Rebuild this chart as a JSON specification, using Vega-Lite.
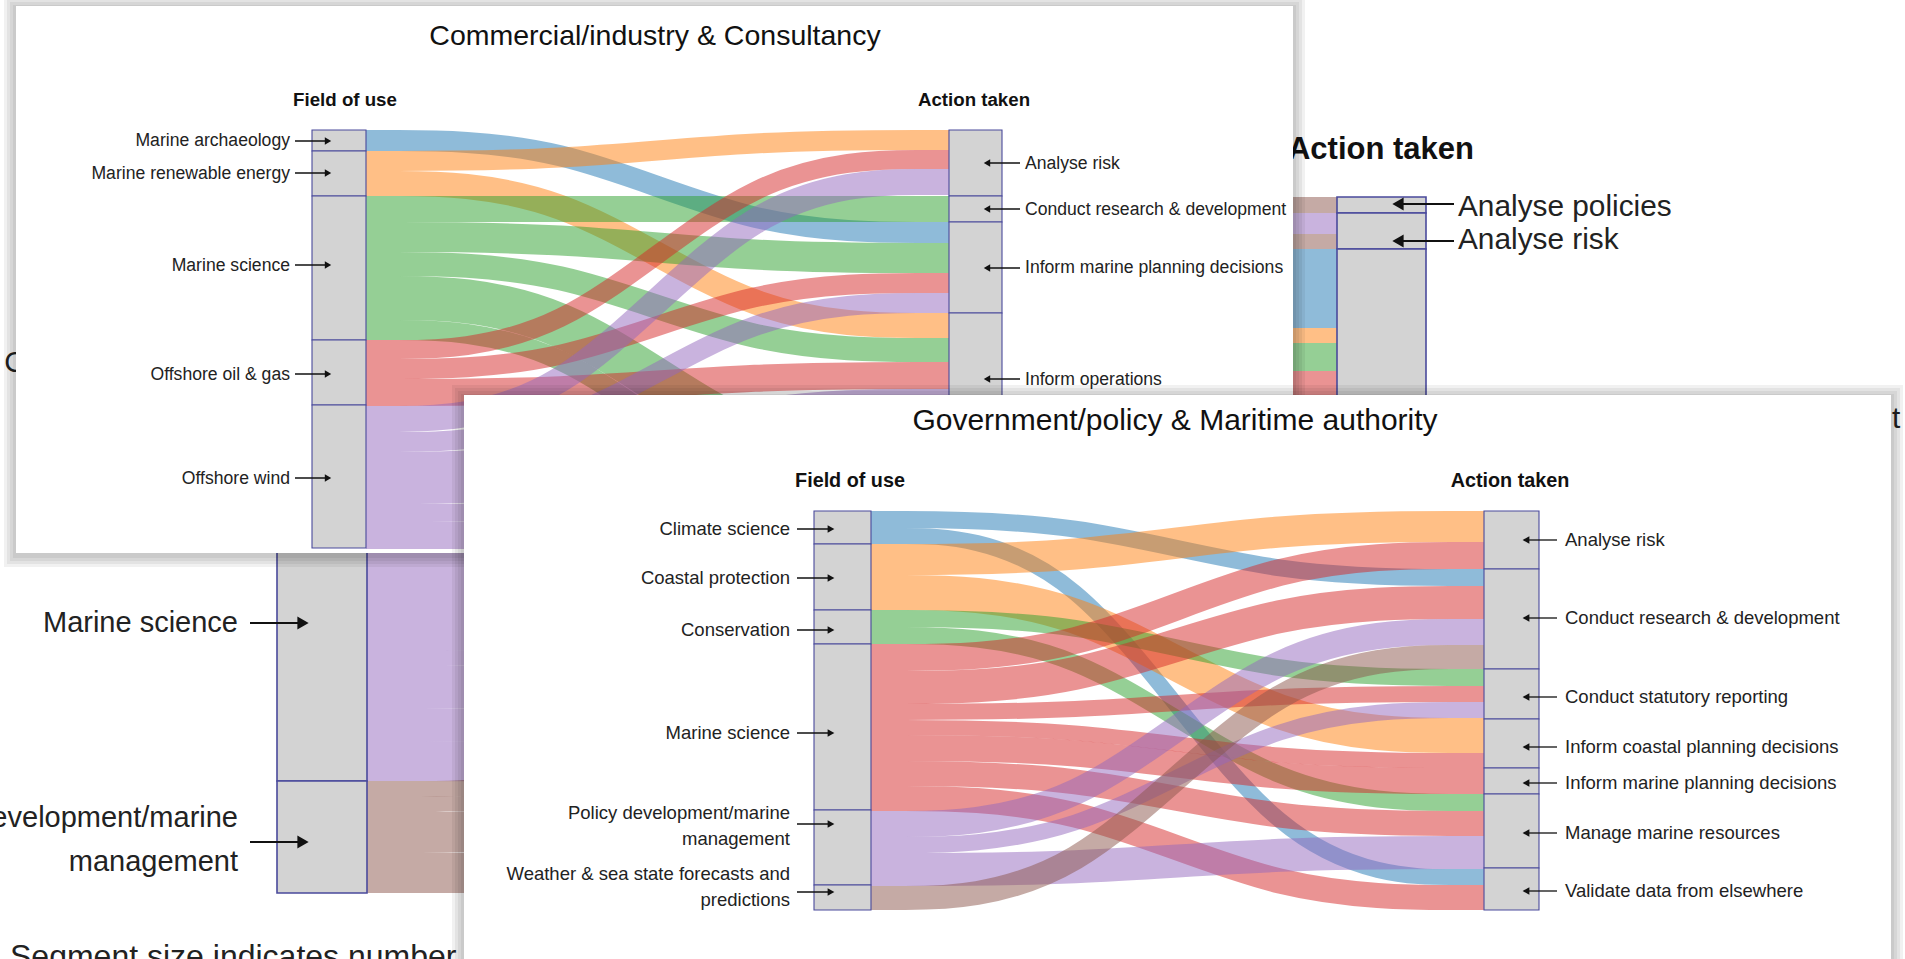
{
"$schema": "https://vega.github.io/schema/vega-lite/v6.json",
"width": 1905, "height": 959,
"autosize": {"type": "none"},
"padding": 0,
"background": "#ffffff",
"config": {"view": {"stroke": null}, "text": {"font": "Liberation Sans, Arial, sans-serif", "color": "#222222"}},
"datasets": {
"links": [
{"p":"BG","id":"g1","si":0,"v":79,"k":0,"x":367,"y":236.5},{"p":"BG","id":"g1","si":0,"v":79,"k":1,"x":690,"y":236.5},{"p":"BG","id":"g1","si":0,"v":79,"k":2,"x":1014,"y":288.5},{"p":"BG","id":"g1","si":0,"v":79,"k":3,"x":1337,"y":288.5},
{"p":"BG","id":"g2","si":0,"v":30,"k":0,"x":367,"y":291},{"p":"BG","id":"g2","si":0,"v":30,"k":1,"x":690,"y":291},{"p":"BG","id":"g2","si":0,"v":30,"k":2,"x":1014,"y":623},{"p":"BG","id":"g2","si":0,"v":30,"k":3,"x":1337,"y":623},
{"p":"BG","id":"g3","si":0,"v":20,"k":0,"x":367,"y":316},{"p":"BG","id":"g3","si":0,"v":20,"k":1,"x":690,"y":316},{"p":"BG","id":"g3","si":0,"v":20,"k":2,"x":1014,"y":827},{"p":"BG","id":"g3","si":0,"v":20,"k":3,"x":1337,"y":827},
{"p":"BG","id":"g4","si":1,"v":15,"k":0,"x":367,"y":333.5},{"p":"BG","id":"g4","si":1,"v":15,"k":1,"x":690,"y":333.5},{"p":"BG","id":"g4","si":1,"v":15,"k":2,"x":1014,"y":335.5},{"p":"BG","id":"g4","si":1,"v":15,"k":3,"x":1337,"y":335.5},
{"p":"BG","id":"g5","si":1,"v":30,"k":0,"x":367,"y":356},{"p":"BG","id":"g5","si":1,"v":30,"k":1,"x":690,"y":356},{"p":"BG","id":"g5","si":1,"v":30,"k":2,"x":1014,"y":653},{"p":"BG","id":"g5","si":1,"v":30,"k":3,"x":1337,"y":653},
{"p":"BG","id":"g6","si":1,"v":30,"k":0,"x":367,"y":386},{"p":"BG","id":"g6","si":1,"v":30,"k":1,"x":690,"y":386},{"p":"BG","id":"g6","si":1,"v":30,"k":2,"x":1014,"y":725},{"p":"BG","id":"g6","si":1,"v":30,"k":3,"x":1337,"y":725},
{"p":"BG","id":"g7","si":2,"v":28,"k":0,"x":367,"y":415},{"p":"BG","id":"g7","si":2,"v":28,"k":1,"x":690,"y":415},{"p":"BG","id":"g7","si":2,"v":28,"k":2,"x":1014,"y":357},{"p":"BG","id":"g7","si":2,"v":28,"k":3,"x":1337,"y":357},
{"p":"BG","id":"g8","si":2,"v":20,"k":0,"x":367,"y":439},{"p":"BG","id":"g8","si":2,"v":20,"k":1,"x":690,"y":439},{"p":"BG","id":"g8","si":2,"v":20,"k":2,"x":1014,"y":750},{"p":"BG","id":"g8","si":2,"v":20,"k":3,"x":1337,"y":750},
{"p":"BG","id":"g9","si":3,"v":50,"k":0,"x":367,"y":474},{"p":"BG","id":"g9","si":3,"v":50,"k":1,"x":690,"y":474},{"p":"BG","id":"g9","si":3,"v":50,"k":2,"x":1014,"y":396},{"p":"BG","id":"g9","si":3,"v":50,"k":3,"x":1337,"y":396},
{"p":"BG","id":"g10","si":4,"v":21,"k":0,"x":367,"y":509.5},{"p":"BG","id":"g10","si":4,"v":21,"k":1,"x":690,"y":509.5},{"p":"BG","id":"g10","si":4,"v":21,"k":2,"x":1014,"y":223.5},{"p":"BG","id":"g10","si":4,"v":21,"k":3,"x":1337,"y":223.5},
{"p":"BG","id":"g11","si":4,"v":131,"k":0,"x":367,"y":585.5},{"p":"BG","id":"g11","si":4,"v":131,"k":1,"x":690,"y":585.5},{"p":"BG","id":"g11","si":4,"v":131,"k":2,"x":1014,"y":486.5},{"p":"BG","id":"g11","si":4,"v":131,"k":3,"x":1337,"y":486.5},
{"p":"BG","id":"g12","si":4,"v":15,"k":0,"x":367,"y":658.5},{"p":"BG","id":"g12","si":4,"v":15,"k":1,"x":690,"y":658.5},{"p":"BG","id":"g12","si":4,"v":15,"k":2,"x":1014,"y":600.5},{"p":"BG","id":"g12","si":4,"v":15,"k":3,"x":1337,"y":600.5},
{"p":"BG","id":"g13","si":4,"v":42,"k":0,"x":367,"y":687},{"p":"BG","id":"g13","si":4,"v":42,"k":1,"x":690,"y":687},{"p":"BG","id":"g13","si":4,"v":42,"k":2,"x":1014,"y":689},{"p":"BG","id":"g13","si":4,"v":42,"k":3,"x":1337,"y":689},
{"p":"BG","id":"g14","si":4,"v":33,"k":0,"x":367,"y":724.5},{"p":"BG","id":"g14","si":4,"v":33,"k":1,"x":690,"y":724.5},{"p":"BG","id":"g14","si":4,"v":33,"k":2,"x":1014,"y":776.5},{"p":"BG","id":"g14","si":4,"v":33,"k":3,"x":1337,"y":776.5},
{"p":"BG","id":"g15","si":4,"v":40,"k":0,"x":367,"y":761},{"p":"BG","id":"g15","si":4,"v":40,"k":1,"x":690,"y":761},{"p":"BG","id":"g15","si":4,"v":40,"k":2,"x":1014,"y":857},{"p":"BG","id":"g15","si":4,"v":40,"k":3,"x":1337,"y":857},
{"p":"BG","id":"g16","si":5,"v":16,"k":0,"x":367,"y":789},{"p":"BG","id":"g16","si":5,"v":16,"k":1,"x":690,"y":789},{"p":"BG","id":"g16","si":5,"v":16,"k":2,"x":1014,"y":205},{"p":"BG","id":"g16","si":5,"v":16,"k":3,"x":1337,"y":205},
{"p":"BG","id":"g17","si":5,"v":15,"k":0,"x":367,"y":804.5},{"p":"BG","id":"g17","si":5,"v":15,"k":1,"x":690,"y":804.5},{"p":"BG","id":"g17","si":5,"v":15,"k":2,"x":1014,"y":241.5},{"p":"BG","id":"g17","si":5,"v":15,"k":3,"x":1337,"y":241.5},
{"p":"BG","id":"g18","si":5,"v":41,"k":0,"x":367,"y":832.5},{"p":"BG","id":"g18","si":5,"v":41,"k":1,"x":690,"y":832.5},{"p":"BG","id":"g18","si":5,"v":41,"k":2,"x":1014,"y":572.5},{"p":"BG","id":"g18","si":5,"v":41,"k":3,"x":1337,"y":572.5},
{"p":"BG","id":"g19","si":5,"v":24,"k":0,"x":367,"y":865},{"p":"BG","id":"g19","si":5,"v":24,"k":1,"x":690,"y":865},{"p":"BG","id":"g19","si":5,"v":24,"k":2,"x":1014,"y":805},{"p":"BG","id":"g19","si":5,"v":24,"k":3,"x":1337,"y":805},
{"p":"BG","id":"g20","si":5,"v":16,"k":0,"x":367,"y":885},{"p":"BG","id":"g20","si":5,"v":16,"k":1,"x":690,"y":885},{"p":"BG","id":"g20","si":5,"v":16,"k":2,"x":1014,"y":885},{"p":"BG","id":"g20","si":5,"v":16,"k":3,"x":1337,"y":885},

{"p":"TL","id":"t1","si":0,"v":21,"k":0,"x":366,"y":140.5},{"p":"TL","id":"t1","si":0,"v":21,"k":1,"x":560,"y":140.5},{"p":"TL","id":"t1","si":0,"v":21,"k":2,"x":755,"y":232.5},{"p":"TL","id":"t1","si":0,"v":21,"k":3,"x":949,"y":232.5},
{"p":"TL","id":"t2","si":1,"v":20,"k":0,"x":366,"y":161},{"p":"TL","id":"t2","si":1,"v":20,"k":1,"x":560,"y":161},{"p":"TL","id":"t2","si":1,"v":20,"k":2,"x":755,"y":140},{"p":"TL","id":"t2","si":1,"v":20,"k":3,"x":949,"y":140},
{"p":"TL","id":"t3","si":1,"v":25,"k":0,"x":366,"y":183.5},{"p":"TL","id":"t3","si":1,"v":25,"k":1,"x":560,"y":183.5},{"p":"TL","id":"t3","si":1,"v":25,"k":2,"x":755,"y":325.5},{"p":"TL","id":"t3","si":1,"v":25,"k":3,"x":949,"y":325.5},
{"p":"TL","id":"t4","si":2,"v":26,"k":0,"x":366,"y":209},{"p":"TL","id":"t4","si":2,"v":26,"k":1,"x":560,"y":209},{"p":"TL","id":"t4","si":2,"v":26,"k":2,"x":755,"y":209},{"p":"TL","id":"t4","si":2,"v":26,"k":3,"x":949,"y":209},
{"p":"TL","id":"t5","si":2,"v":30,"k":0,"x":366,"y":237},{"p":"TL","id":"t5","si":2,"v":30,"k":1,"x":560,"y":237},{"p":"TL","id":"t5","si":2,"v":30,"k":2,"x":755,"y":258},{"p":"TL","id":"t5","si":2,"v":30,"k":3,"x":949,"y":258},
{"p":"TL","id":"t6","si":2,"v":24,"k":0,"x":366,"y":264},{"p":"TL","id":"t6","si":2,"v":24,"k":1,"x":560,"y":264},{"p":"TL","id":"t6","si":2,"v":24,"k":2,"x":755,"y":350},{"p":"TL","id":"t6","si":2,"v":24,"k":3,"x":949,"y":350},
{"p":"TL","id":"t7","si":2,"v":44,"k":0,"x":366,"y":298},{"p":"TL","id":"t7","si":2,"v":44,"k":1,"x":560,"y":298},{"p":"TL","id":"t7","si":2,"v":44,"k":2,"x":755,"y":463},{"p":"TL","id":"t7","si":2,"v":44,"k":3,"x":949,"y":463},
{"p":"TL","id":"t8","si":2,"v":20,"k":0,"x":366,"y":330},{"p":"TL","id":"t8","si":2,"v":20,"k":1,"x":560,"y":330},{"p":"TL","id":"t8","si":2,"v":20,"k":2,"x":755,"y":513},{"p":"TL","id":"t8","si":2,"v":20,"k":3,"x":949,"y":513},
{"p":"TL","id":"t9","si":3,"v":19,"k":0,"x":366,"y":349.5},{"p":"TL","id":"t9","si":3,"v":19,"k":1,"x":560,"y":349.5},{"p":"TL","id":"t9","si":3,"v":19,"k":2,"x":755,"y":159.5},{"p":"TL","id":"t9","si":3,"v":19,"k":3,"x":949,"y":159.5},
{"p":"TL","id":"t10","si":3,"v":20,"k":0,"x":366,"y":369},{"p":"TL","id":"t10","si":3,"v":20,"k":1,"x":560,"y":369},{"p":"TL","id":"t10","si":3,"v":20,"k":2,"x":755,"y":283},{"p":"TL","id":"t10","si":3,"v":20,"k":3,"x":949,"y":283},
{"p":"TL","id":"t11","si":3,"v":27,"k":0,"x":366,"y":392.5},{"p":"TL","id":"t11","si":3,"v":27,"k":1,"x":560,"y":392.5},{"p":"TL","id":"t11","si":3,"v":27,"k":2,"x":755,"y":375.5},{"p":"TL","id":"t11","si":3,"v":27,"k":3,"x":949,"y":375.5},
{"p":"TL","id":"t12","si":4,"v":26,"k":0,"x":366,"y":419},{"p":"TL","id":"t12","si":4,"v":26,"k":1,"x":560,"y":419},{"p":"TL","id":"t12","si":4,"v":26,"k":2,"x":755,"y":182},{"p":"TL","id":"t12","si":4,"v":26,"k":3,"x":949,"y":182},
{"p":"TL","id":"t13","si":4,"v":20,"k":0,"x":366,"y":442},{"p":"TL","id":"t13","si":4,"v":20,"k":1,"x":560,"y":442},{"p":"TL","id":"t13","si":4,"v":20,"k":2,"x":755,"y":303},{"p":"TL","id":"t13","si":4,"v":20,"k":3,"x":949,"y":303},
{"p":"TL","id":"t14","si":4,"v":52,"k":0,"x":366,"y":478},{"p":"TL","id":"t14","si":4,"v":52,"k":1,"x":560,"y":478},{"p":"TL","id":"t14","si":4,"v":52,"k":2,"x":755,"y":415},{"p":"TL","id":"t14","si":4,"v":52,"k":3,"x":949,"y":415},
{"p":"TL","id":"t15","si":4,"v":18,"k":0,"x":366,"y":513},{"p":"TL","id":"t15","si":4,"v":18,"k":1,"x":560,"y":513},{"p":"TL","id":"t15","si":4,"v":18,"k":2,"x":755,"y":494},{"p":"TL","id":"t15","si":4,"v":18,"k":3,"x":949,"y":494},
{"p":"TL","id":"t16","si":4,"v":27,"k":0,"x":366,"y":535.5},{"p":"TL","id":"t16","si":4,"v":27,"k":1,"x":560,"y":535.5},{"p":"TL","id":"t16","si":4,"v":27,"k":2,"x":755,"y":536.5},{"p":"TL","id":"t16","si":4,"v":27,"k":3,"x":949,"y":536.5},

{"p":"BR","id":"b1","si":0,"v":17,"k":0,"x":871,"y":519.5},{"p":"BR","id":"b1","si":0,"v":17,"k":1,"x":1075,"y":519.5},{"p":"BR","id":"b1","si":0,"v":17,"k":2,"x":1280,"y":577.5},{"p":"BR","id":"b1","si":0,"v":17,"k":3,"x":1484,"y":577.5},
{"p":"BR","id":"b2","si":0,"v":16,"k":0,"x":871,"y":536},{"p":"BR","id":"b2","si":0,"v":16,"k":1,"x":1075,"y":536},{"p":"BR","id":"b2","si":0,"v":16,"k":2,"x":1280,"y":877},{"p":"BR","id":"b2","si":0,"v":16,"k":3,"x":1484,"y":877},
{"p":"BR","id":"b3","si":1,"v":31,"k":0,"x":871,"y":559.5},{"p":"BR","id":"b3","si":1,"v":31,"k":1,"x":1075,"y":559.5},{"p":"BR","id":"b3","si":1,"v":31,"k":2,"x":1280,"y":526.5},{"p":"BR","id":"b3","si":1,"v":31,"k":3,"x":1484,"y":526.5},
{"p":"BR","id":"b4","si":1,"v":35,"k":0,"x":871,"y":592.5},{"p":"BR","id":"b4","si":1,"v":35,"k":1,"x":1075,"y":592.5},{"p":"BR","id":"b4","si":1,"v":35,"k":2,"x":1280,"y":735.5},{"p":"BR","id":"b4","si":1,"v":35,"k":3,"x":1484,"y":735.5},
{"p":"BR","id":"b5","si":2,"v":17,"k":0,"x":871,"y":618.5},{"p":"BR","id":"b5","si":2,"v":17,"k":1,"x":1075,"y":618.5},{"p":"BR","id":"b5","si":2,"v":17,"k":2,"x":1280,"y":677.5},{"p":"BR","id":"b5","si":2,"v":17,"k":3,"x":1484,"y":677.5},
{"p":"BR","id":"b6","si":2,"v":17,"k":0,"x":871,"y":635.5},{"p":"BR","id":"b6","si":2,"v":17,"k":1,"x":1075,"y":635.5},{"p":"BR","id":"b6","si":2,"v":17,"k":2,"x":1280,"y":802.5},{"p":"BR","id":"b6","si":2,"v":17,"k":3,"x":1484,"y":802.5},
{"p":"BR","id":"b7","si":3,"v":27,"k":0,"x":871,"y":657.5},{"p":"BR","id":"b7","si":3,"v":27,"k":1,"x":1075,"y":657.5},{"p":"BR","id":"b7","si":3,"v":27,"k":2,"x":1280,"y":555.5},{"p":"BR","id":"b7","si":3,"v":27,"k":3,"x":1484,"y":555.5},
{"p":"BR","id":"b8","si":3,"v":33,"k":0,"x":871,"y":687.5},{"p":"BR","id":"b8","si":3,"v":33,"k":1,"x":1075,"y":687.5},{"p":"BR","id":"b8","si":3,"v":33,"k":2,"x":1280,"y":602.5},{"p":"BR","id":"b8","si":3,"v":33,"k":3,"x":1484,"y":602.5},
{"p":"BR","id":"b9","si":3,"v":16,"k":0,"x":871,"y":712},{"p":"BR","id":"b9","si":3,"v":16,"k":1,"x":1075,"y":712},{"p":"BR","id":"b9","si":3,"v":16,"k":2,"x":1280,"y":694},{"p":"BR","id":"b9","si":3,"v":16,"k":3,"x":1484,"y":694},
{"p":"BR","id":"b10","si":3,"v":15,"k":0,"x":871,"y":727.5},{"p":"BR","id":"b10","si":3,"v":15,"k":1,"x":1075,"y":727.5},{"p":"BR","id":"b10","si":3,"v":15,"k":2,"x":1280,"y":760.5},{"p":"BR","id":"b10","si":3,"v":15,"k":3,"x":1484,"y":760.5},
{"p":"BR","id":"b11","si":3,"v":26,"k":0,"x":871,"y":748},{"p":"BR","id":"b11","si":3,"v":26,"k":1,"x":1075,"y":748},{"p":"BR","id":"b11","si":3,"v":26,"k":2,"x":1280,"y":781},{"p":"BR","id":"b11","si":3,"v":26,"k":3,"x":1484,"y":781},
{"p":"BR","id":"b12","si":3,"v":25,"k":0,"x":871,"y":773.5},{"p":"BR","id":"b12","si":3,"v":25,"k":1,"x":1075,"y":773.5},{"p":"BR","id":"b12","si":3,"v":25,"k":2,"x":1280,"y":823.5},{"p":"BR","id":"b12","si":3,"v":25,"k":3,"x":1484,"y":823.5},
{"p":"BR","id":"b13","si":3,"v":25,"k":0,"x":871,"y":798.5},{"p":"BR","id":"b13","si":3,"v":25,"k":1,"x":1075,"y":798.5},{"p":"BR","id":"b13","si":3,"v":25,"k":2,"x":1280,"y":897.5},{"p":"BR","id":"b13","si":3,"v":25,"k":3,"x":1484,"y":897.5},
{"p":"BR","id":"b14","si":4,"v":26,"k":0,"x":871,"y":824},{"p":"BR","id":"b14","si":4,"v":26,"k":1,"x":1075,"y":824},{"p":"BR","id":"b14","si":4,"v":26,"k":2,"x":1280,"y":632},{"p":"BR","id":"b14","si":4,"v":26,"k":3,"x":1484,"y":632},
{"p":"BR","id":"b15","si":4,"v":16,"k":0,"x":871,"y":845},{"p":"BR","id":"b15","si":4,"v":16,"k":1,"x":1075,"y":845},{"p":"BR","id":"b15","si":4,"v":16,"k":2,"x":1280,"y":710},{"p":"BR","id":"b15","si":4,"v":16,"k":3,"x":1484,"y":710},
{"p":"BR","id":"b16","si":4,"v":33,"k":0,"x":871,"y":869.5},{"p":"BR","id":"b16","si":4,"v":33,"k":1,"x":1075,"y":869.5},{"p":"BR","id":"b16","si":4,"v":33,"k":2,"x":1280,"y":852.5},{"p":"BR","id":"b16","si":4,"v":33,"k":3,"x":1484,"y":852.5},
{"p":"BR","id":"b17","si":5,"v":24,"k":0,"x":871,"y":898},{"p":"BR","id":"b17","si":5,"v":24,"k":1,"x":1075,"y":898},{"p":"BR","id":"b17","si":5,"v":24,"k":2,"x":1280,"y":657},{"p":"BR","id":"b17","si":5,"v":24,"k":3,"x":1484,"y":657}
],
"nodes": [
{"p":"BG","n":"Climate science","x":277,"x2":367,"y":197,"y2":326},{"p":"BG","n":"Coastal protection","x":277,"x2":367,"y":326,"y2":401},{"p":"BG","n":"Conservation","x":277,"x2":367,"y":401,"y2":449},{"p":"BG","n":"Other","x":277,"x2":367,"y":449,"y2":499},{"p":"BG","n":"Marine science","x":277,"x2":367,"y":499,"y2":781},{"p":"BG","n":"Policy development/marine management","x":277,"x2":367,"y":781,"y2":893},
{"p":"BG","n":"Analyse policies","x":1337,"x2":1426,"y":197,"y2":213},{"p":"BG","n":"Analyse risk","x":1337,"x2":1426,"y":213,"y2":249},{"p":"BG","n":"Conduct research & development","x":1337,"x2":1426,"y":249,"y2":593},{"p":"BG","n":"Conduct statutory reporting","x":1337,"x2":1426,"y":593,"y2":608},{"p":"BG","n":"Inform marine planning decisions","x":1337,"x2":1426,"y":608,"y2":710},{"p":"BG","n":"Manage marine resources","x":1337,"x2":1426,"y":710,"y2":817},{"p":"BG","n":"Validate data from elsewhere","x":1337,"x2":1426,"y":817,"y2":893},
{"p":"TL","n":"Marine archaeology","x":312,"x2":366,"y":130,"y2":151},{"p":"TL","n":"Marine renewable energy","x":312,"x2":366,"y":151,"y2":196},{"p":"TL","n":"Marine science","x":312,"x2":366,"y":196,"y2":340},{"p":"TL","n":"Offshore oil & gas","x":312,"x2":366,"y":340,"y2":405},{"p":"TL","n":"Offshore wind","x":312,"x2":366,"y":405,"y2":548},
{"p":"TL","n":"Analyse risk","x":949,"x2":1002,"y":130,"y2":196},{"p":"TL","n":"Conduct research & development","x":949,"x2":1002,"y":196,"y2":222},{"p":"TL","n":"Inform marine planning decisions","x":949,"x2":1002,"y":222,"y2":313},{"p":"TL","n":"Inform operations","x":949,"x2":1002,"y":313,"y2":441},{"p":"TL","n":"Manage marine resources","x":949,"x2":1002,"y":441,"y2":503},{"p":"TL","n":"Validate data from elsewhere","x":949,"x2":1002,"y":503,"y2":548},
{"p":"BR","n":"Climate science","x":814,"x2":871,"y":511,"y2":544},{"p":"BR","n":"Coastal protection","x":814,"x2":871,"y":544,"y2":610},{"p":"BR","n":"Conservation","x":814,"x2":871,"y":610,"y2":644},{"p":"BR","n":"Marine science","x":814,"x2":871,"y":644,"y2":810},{"p":"BR","n":"Policy development/marine management","x":814,"x2":871,"y":810,"y2":885},{"p":"BR","n":"Weather & sea state forecasts and predictions","x":814,"x2":871,"y":885,"y2":910},
{"p":"BR","n":"Analyse risk","x":1484,"x2":1539,"y":511,"y2":569},{"p":"BR","n":"Conduct research & development","x":1484,"x2":1539,"y":569,"y2":669},{"p":"BR","n":"Conduct statutory reporting","x":1484,"x2":1539,"y":669,"y2":719},{"p":"BR","n":"Inform coastal planning decisions","x":1484,"x2":1539,"y":719,"y2":768},{"p":"BR","n":"Inform marine planning decisions","x":1484,"x2":1539,"y":768,"y2":794},{"p":"BR","n":"Manage marine resources","x":1484,"x2":1539,"y":794,"y2":868},{"p":"BR","n":"Validate data from elsewhere","x":1484,"x2":1539,"y":868,"y2":910}
],
"frames": [
{"p":"TL","k":"sh","x":13,"x2":1296,"y":5,"y2":558},{"p":"TL","k":"sh","x":10,"x2":1299,"y":2,"y2":561},{"p":"TL","k":"sh","x":7,"x2":1302,"y":-1,"y2":564},{"p":"TL","k":"sh","x":4,"x2":1305,"y":-4,"y2":567},
{"p":"TL","k":"pn","x":16,"x2":1293,"y":6,"y2":553},
{"p":"BR","k":"sh","x":461,"x2":1894,"y":394,"y2":965},{"p":"BR","k":"sh","x":458,"x2":1897,"y":391,"y2":965},{"p":"BR","k":"sh","x":455,"x2":1900,"y":388,"y2":965},{"p":"BR","k":"sh","x":452,"x2":1903,"y":385,"y2":965},
{"p":"BR","k":"pn","x":464,"x2":1891,"y":395,"y2":965}
],
"arrows": [
{"p":"BG","d":"r","x":250,"x2":303,"y":363},{"p":"BG","d":"r","x":250,"x2":303,"y":623},{"p":"BG","d":"r","x":250,"x2":303,"y":842},
{"p":"BG","d":"l","x":1454,"x2":1398,"y":204},{"p":"BG","d":"l","x":1454,"x2":1398,"y":241},{"p":"BG","d":"l","x":1454,"x2":1398,"y":419},
{"p":"TL","d":"r","x":295,"x2":328,"y":141},{"p":"TL","d":"r","x":295,"x2":328,"y":173},{"p":"TL","d":"r","x":295,"x2":328,"y":265},{"p":"TL","d":"r","x":295,"x2":328,"y":374},{"p":"TL","d":"r","x":295,"x2":328,"y":478},
{"p":"TL","d":"l","x":1020,"x2":987,"y":163},{"p":"TL","d":"l","x":1020,"x2":987,"y":209},{"p":"TL","d":"l","x":1020,"x2":987,"y":268},{"p":"TL","d":"l","x":1020,"x2":987,"y":379},
{"p":"BR","d":"r","x":797,"x2":831,"y":529},{"p":"BR","d":"r","x":797,"x2":831,"y":578},{"p":"BR","d":"r","x":797,"x2":831,"y":630},{"p":"BR","d":"r","x":797,"x2":831,"y":733},{"p":"BR","d":"r","x":797,"x2":831,"y":824},{"p":"BR","d":"r","x":797,"x2":831,"y":892},
{"p":"BR","d":"l","x":1557,"x2":1526,"y":540},{"p":"BR","d":"l","x":1557,"x2":1526,"y":618},{"p":"BR","d":"l","x":1557,"x2":1526,"y":697},{"p":"BR","d":"l","x":1557,"x2":1526,"y":747},{"p":"BR","d":"l","x":1557,"x2":1526,"y":783},{"p":"BR","d":"l","x":1557,"x2":1526,"y":833},{"p":"BR","d":"l","x":1557,"x2":1526,"y":891}
],
"texts": [
{"p":"BG","k":"head","t":"Action taken","x":1381,"y":150},
{"p":"BG","k":"labL","t":"Coastal protection","x":238,"y":363},
{"p":"BG","k":"labL","t":"Marine science","x":238,"y":623},
{"p":"BG","k":"labL","t":"Policy development/marine|management","x":238,"y":818},
{"p":"BG","k":"labR","t":"Analyse policies","x":1458,"y":207},
{"p":"BG","k":"labR","t":"Analyse risk","x":1458,"y":240},
{"p":"BG","k":"labR","t":"Conduct research & development","x":1458,"y":419},
{"p":"BG","k":"foot","t":"Segment size indicates number of responses","x":10,"y":967},
{"p":"TL","k":"title","t":"Commercial/industry & Consultancy","x":655,"y":36},
{"p":"TL","k":"head","t":"Field of use","x":345,"y":100},
{"p":"TL","k":"head","t":"Action taken","x":974,"y":100},
{"p":"TL","k":"labL","t":"Marine archaeology","x":290,"y":141},
{"p":"TL","k":"labL","t":"Marine renewable energy","x":290,"y":174},
{"p":"TL","k":"labL","t":"Marine science","x":290,"y":266},
{"p":"TL","k":"labL","t":"Offshore oil & gas","x":290,"y":375},
{"p":"TL","k":"labL","t":"Offshore wind","x":290,"y":479},
{"p":"TL","k":"labR","t":"Analyse risk","x":1025,"y":164},
{"p":"TL","k":"labR","t":"Conduct research & development","x":1025,"y":210},
{"p":"TL","k":"labR","t":"Inform marine planning  decisions","x":1025,"y":268},
{"p":"TL","k":"labR","t":"Inform operations","x":1025,"y":380},
{"p":"BR","k":"title","t":"Government/policy & Maritime authority","x":1175,"y":421},
{"p":"BR","k":"head","t":"Field of use","x":850,"y":481},
{"p":"BR","k":"head","t":"Action taken","x":1510,"y":481},
{"p":"BR","k":"labL","t":"Climate science","x":790,"y":529},
{"p":"BR","k":"labL","t":"Coastal protection","x":790,"y":578},
{"p":"BR","k":"labL","t":"Conservation","x":790,"y":630},
{"p":"BR","k":"labL","t":"Marine science","x":790,"y":733},
{"p":"BR","k":"labL","t":"Policy development/marine|management","x":790,"y":813},
{"p":"BR","k":"labL","t":"Weather & sea state forecasts and|predictions","x":790,"y":874},
{"p":"BR","k":"labR","t":"Analyse risk","x":1565,"y":540},
{"p":"BR","k":"labR","t":"Conduct research & development","x":1565,"y":618},
{"p":"BR","k":"labR","t":"Conduct statutory reporting","x":1565,"y":697},
{"p":"BR","k":"labR","t":"Inform coastal planning  decisions","x":1565,"y":747},
{"p":"BR","k":"labR","t":"Inform marine planning  decisions","x":1565,"y":783},
{"p":"BR","k":"labR","t":"Manage marine resources","x":1565,"y":833},
{"p":"BR","k":"labR","t":"Validate data from elsewhere","x":1565,"y":891}
]
},
"encoding": {
"x": {"field":"x","type":"quantitative","scale":{"domain":[0,1905],"nice":false,"zero":false},"axis":null},
"y": {"field":"y","type":"quantitative","scale":{"domain":[0,959],"nice":false,"zero":false,"reverse":true},"axis":null}
},
"layer": [
{"data":{"name":"links"},"transform":[{"filter":"datum.p==='BG'"}],"mark":{"type":"line","interpolate":"basis","opacity":0.5,"strokeCap":"butt"},
 "encoding":{"detail":{"field":"id"},"order":{"field":"k","type":"quantitative"},
  "color":{"field":"si","type":"nominal","scale":{"domain":[0,1,2,3,4,5],"range":["#1f77b4","#ff7f0e","#2ca02c","#d62728","#9467bd","#8c564b"]},"legend":null},
  "strokeWidth":{"field":"v","type":"quantitative","scale":{"domain":[0,200],"range":[0,200]},"legend":null}}},
{"data":{"name":"nodes"},"transform":[{"filter":"datum.p==='BG'"}],"mark":{"type":"rect","fill":"#d3d3d3","stroke":"#4a4a9c","strokeWidth":1.6},"encoding":{"x2":{"field":"x2"},"y2":{"field":"y2"}}},
{"data":{"name":"arrows"},"transform":[{"filter":"datum.p==='BG'"}],"mark":{"type":"rule","color":"#111111","strokeWidth":2.2},"encoding":{"x2":{"field":"x2"}}},
{"data":{"name":"arrows"},"transform":[{"filter":"datum.p==='BG'"}],"mark":{"type":"point","filled":true,"opacity":1,"color":"#111111","size":170},
 "encoding":{"x":{"field":"x2","type":"quantitative"},"shape":{"field":"d","type":"nominal","scale":{"domain":["r","l"],"range":["triangle-right","triangle-left"]},"legend":null}}},
{"data":{"name":"texts"},"transform":[{"filter":"datum.p==='BG' && datum.k==='head'"}],"mark":{"type":"text","align":"center","baseline":"middle","fontSize":31,"fontWeight":"bold","color":"#111111"},"encoding":{"text":{"field":"t"}}},
{"data":{"name":"texts"},"transform":[{"filter":"datum.p==='BG' && datum.k==='labL'"}],"mark":{"type":"text","align":"right","baseline":"middle","fontSize":29,"lineBreak":"|","lineHeight":44},"encoding":{"text":{"field":"t"}}},
{"data":{"name":"texts"},"transform":[{"filter":"datum.p==='BG' && datum.k==='labR'"}],"mark":{"type":"text","align":"left","baseline":"middle","fontSize":29.8},"encoding":{"text":{"field":"t"}}},
{"data":{"name":"texts"},"transform":[{"filter":"datum.p==='BG' && datum.k==='foot'"}],"mark":{"type":"text","align":"left","baseline":"alphabetic","fontSize":32},"encoding":{"text":{"field":"t"}}},

{"data":{"name":"frames"},"transform":[{"filter":"datum.p==='TL' && datum.k==='sh'"}],"mark":{"type":"rect","fill":"#000000","opacity":0.055},"encoding":{"x2":{"field":"x2"},"y2":{"field":"y2"}}},
{"data":{"name":"frames"},"transform":[{"filter":"datum.p==='TL' && datum.k==='pn'"}],"mark":{"type":"rect","fill":"#ffffff"},"encoding":{"x2":{"field":"x2"},"y2":{"field":"y2"}}},
{"data":{"name":"links"},"transform":[{"filter":"datum.p==='TL'"}],"mark":{"type":"line","interpolate":"basis","opacity":0.5,"strokeCap":"butt"},
 "encoding":{"detail":{"field":"id"},"order":{"field":"k","type":"quantitative"},
  "color":{"field":"si","type":"nominal","scale":{"domain":[0,1,2,3,4,5],"range":["#1f77b4","#ff7f0e","#2ca02c","#d62728","#9467bd","#8c564b"]},"legend":null},
  "strokeWidth":{"field":"v","type":"quantitative","scale":{"domain":[0,200],"range":[0,200]},"legend":null}}},
{"data":{"name":"nodes"},"transform":[{"filter":"datum.p==='TL'"}],"mark":{"type":"rect","fill":"#d3d3d3","stroke":"#4a4a9c","strokeWidth":1.1},"encoding":{"x2":{"field":"x2"},"y2":{"field":"y2"}}},
{"data":{"name":"arrows"},"transform":[{"filter":"datum.p==='TL'"}],"mark":{"type":"rule","color":"#111111","strokeWidth":1.3},"encoding":{"x2":{"field":"x2"}}},
{"data":{"name":"arrows"},"transform":[{"filter":"datum.p==='TL'"}],"mark":{"type":"point","filled":true,"opacity":1,"color":"#111111","size":55},
 "encoding":{"x":{"field":"x2","type":"quantitative"},"shape":{"field":"d","type":"nominal","scale":{"domain":["r","l"],"range":["triangle-right","triangle-left"]},"legend":null}}},
{"data":{"name":"texts"},"transform":[{"filter":"datum.p==='TL' && datum.k==='title'"}],"mark":{"type":"text","align":"center","baseline":"middle","fontSize":28.5,"color":"#111111"},"encoding":{"text":{"field":"t"}}},
{"data":{"name":"texts"},"transform":[{"filter":"datum.p==='TL' && datum.k==='head'"}],"mark":{"type":"text","align":"center","baseline":"middle","fontSize":18.7,"fontWeight":"bold","color":"#111111"},"encoding":{"text":{"field":"t"}}},
{"data":{"name":"texts"},"transform":[{"filter":"datum.p==='TL' && datum.k==='labL'"}],"mark":{"type":"text","align":"right","baseline":"middle","fontSize":17.6},"encoding":{"text":{"field":"t"}}},
{"data":{"name":"texts"},"transform":[{"filter":"datum.p==='TL' && datum.k==='labR'"}],"mark":{"type":"text","align":"left","baseline":"middle","fontSize":17.6},"encoding":{"text":{"field":"t"}}},

{"data":{"name":"frames"},"transform":[{"filter":"datum.p==='BR' && datum.k==='sh'"}],"mark":{"type":"rect","fill":"#000000","opacity":0.055},"encoding":{"x2":{"field":"x2"},"y2":{"field":"y2"}}},
{"data":{"name":"frames"},"transform":[{"filter":"datum.p==='BR' && datum.k==='pn'"}],"mark":{"type":"rect","fill":"#ffffff"},"encoding":{"x2":{"field":"x2"},"y2":{"field":"y2"}}},
{"data":{"name":"links"},"transform":[{"filter":"datum.p==='BR'"}],"mark":{"type":"line","interpolate":"basis","opacity":0.5,"strokeCap":"butt"},
 "encoding":{"detail":{"field":"id"},"order":{"field":"k","type":"quantitative"},
  "color":{"field":"si","type":"nominal","scale":{"domain":[0,1,2,3,4,5],"range":["#1f77b4","#ff7f0e","#2ca02c","#d62728","#9467bd","#8c564b"]},"legend":null},
  "strokeWidth":{"field":"v","type":"quantitative","scale":{"domain":[0,200],"range":[0,200]},"legend":null}}},
{"data":{"name":"nodes"},"transform":[{"filter":"datum.p==='BR'"}],"mark":{"type":"rect","fill":"#d3d3d3","stroke":"#4a4a9c","strokeWidth":1.1},"encoding":{"x2":{"field":"x2"},"y2":{"field":"y2"}}},
{"data":{"name":"arrows"},"transform":[{"filter":"datum.p==='BR'"}],"mark":{"type":"rule","color":"#111111","strokeWidth":1.3},"encoding":{"x2":{"field":"x2"}}},
{"data":{"name":"arrows"},"transform":[{"filter":"datum.p==='BR'"}],"mark":{"type":"point","filled":true,"opacity":1,"color":"#111111","size":60},
 "encoding":{"x":{"field":"x2","type":"quantitative"},"shape":{"field":"d","type":"nominal","scale":{"domain":["r","l"],"range":["triangle-right","triangle-left"]},"legend":null}}},
{"data":{"name":"texts"},"transform":[{"filter":"datum.p==='BR' && datum.k==='title'"}],"mark":{"type":"text","align":"center","baseline":"middle","fontSize":30,"color":"#111111"},"encoding":{"text":{"field":"t"}}},
{"data":{"name":"texts"},"transform":[{"filter":"datum.p==='BR' && datum.k==='head'"}],"mark":{"type":"text","align":"center","baseline":"middle","fontSize":19.8,"fontWeight":"bold","color":"#111111"},"encoding":{"text":{"field":"t"}}},
{"data":{"name":"texts"},"transform":[{"filter":"datum.p==='BR' && datum.k==='labL'"}],"mark":{"type":"text","align":"right","baseline":"middle","fontSize":18.5,"lineBreak":"|","lineHeight":26},"encoding":{"text":{"field":"t"}}},
{"data":{"name":"texts"},"transform":[{"filter":"datum.p==='BR' && datum.k==='labR'"}],"mark":{"type":"text","align":"left","baseline":"middle","fontSize":18.5},"encoding":{"text":{"field":"t"}}}
]
}
